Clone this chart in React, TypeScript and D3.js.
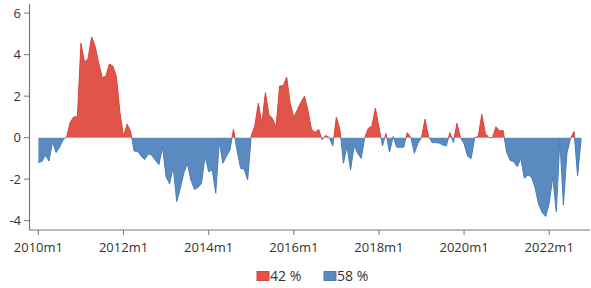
import React from 'react';
import * as d3 from 'd3';

// monthly values, 2010m1 .. 2022m10
const startYear = 2010;
const values: number[] = [
  -1.2, -1.15, -0.85, -1.13, -0.2, -0.72, -0.45, -0.1, 0.05, 0.75,
  1.0, 1.0, 4.55, 3.65, 3.8, 4.85, 4.4, 3.6, 2.9, 2.95,
  3.55, 3.45, 2.95, 1.2, 0.05, 0.65, 0.3, -0.65, -0.65, -0.9,
  -1.05, -0.78, -0.85, -1.1, -1.3, -0.46, -1.88, -2.23, -1.4, -3.08,
  -2.45, -1.7, -1.25, -2.04, -2.5, -2.4, -2.2, -0.9, -1.64, -1.56,
  -2.68, -0.19, -1.23, -0.9, -0.6, 0.4, -0.6, -1.48, -1.52, -2.04,
  0.1, 0.55, 1.66, 0.69, 2.17, 1.1, 0.93, 0.5, 2.49, 2.5,
  2.91, 1.62, 0.98, 1.34, 1.7, 2.0, 1.3, 0.4, 0.25, 0.4,
  -0.1, 0.1, 0.0, -0.4, 0.98, 0.4, -1.23, -0.4, -1.56, -0.4,
  -0.75, -1.0, 0.0, 0.45, 0.55, 1.42, 0.5, -0.4, 0.2, -0.7,
  0.05, -0.46, -0.46, -0.46, 0.24, 0.0, -0.75, -0.27, 0.0, 0.89,
  0.05, -0.24, -0.24, -0.26, -0.35, -0.4, 0.24, -0.24, 0.69, 0.0,
  -0.3, -0.9, -1.0, 0.0, 0.05, 1.13, 0.2, 0.0, 0.0, 0.53,
  0.32, 0.35, -0.7, -1.1, -1.15, -1.4, -1.0, -1.96, -1.8, -1.9,
  -2.4, -3.2, -3.6, -3.8, -3.16, -1.9, -3.57, -0.1, -3.25, -0.75,
  -0.05, 0.3, -1.85, -0.05,
];
const yTicks = [-4, -2, 0, 2, 4, 6];
const xTickYears = [2010, 2012, 2014, 2016, 2018, 2020, 2022];
const legendLabels = ['42 %', '58 %'];

const W = 591;
const H = 288;
const RED = '#e0544a';
const RED_LINE = '#d8443a';
const BLUE = '#5a8ac0';
const BLUE_LINE = '#4a7db9';
const FONT = "'Open Sans', 'Noto Sans', sans-serif";

export default function App() {
  const x = d3.scaleLinear().domain([-2.5, 155.5]).range([29.5, 590]);
  const y = d3.scaleLinear().domain([-4.45, 6.45]).range([230, 3.8]);

  const data = values.map((v, i) => ({ i, v }));
  const area = d3
    .area<{ i: number; v: number }>()
    .x((d) => x(d.i))
    .y0(y(0))
    .y1((d) => y(d.v));
  const line = d3
    .line<{ i: number; v: number }>()
    .x((d) => x(d.i))
    .y((d) => y(d.v));
  const areaPath = area(data) || '';
  const linePath = line(data) || '';
  const y0 = y(0);

  return (
    <svg
      width={W}
      height={H}
      style={{ position: 'absolute', left: 0, top: 0, background: '#fff' }}
      fontFamily={FONT}
    >
      <defs>
        <clipPath id="above">
          <rect x={0} y={0} width={W} height={y0} />
        </clipPath>
        <clipPath id="below">
          <rect x={0} y={y0} width={W} height={H - y0} />
        </clipPath>
      </defs>

      <g clipPath="url(#above)">
        <path d={areaPath} fill={RED} />
        <path d={linePath} fill="none" stroke={RED_LINE} strokeWidth={1} />
      </g>
      <g clipPath="url(#below)">
        <path d={areaPath} fill={BLUE} />
        <path d={linePath} fill="none" stroke={BLUE_LINE} strokeWidth={1} />
      </g>

      {/* y axis */}
      <line x1={29.5} x2={29.5} y1={3.8} y2={230} stroke="#777" strokeWidth={1.2} />
      {yTicks.map((t) => (
        <g key={t} transform={`translate(0,${y(t)})`}>
          <line x1={24} x2={29.5} stroke="#777" strokeWidth={1} />
          <text x={21} dy="0.35em" textAnchor="end" fontSize={13} fill="#333">
            {t}
          </text>
        </g>
      ))}

      {/* x axis */}
      <line x1={29} x2={590} y1={230} y2={230} stroke="#777" strokeWidth={1.2} />
      {xTickYears.map((yr) => {
        const xi = x((yr - startYear) * 12);
        return (
          <g key={yr} transform={`translate(${xi},230)`}>
            <line y1={0} y2={5} stroke="#777" strokeWidth={1} />
            <text y={22} textAnchor="middle" fontSize={13} fill="#333">
              {`${yr}m1`}
            </text>
          </g>
        );
      })}

      {/* legend */}
      <g fontSize={14} fill="#333">
        <rect x={257} y={271.5} width={12} height={9} fill={RED} stroke={RED_LINE} />
        <text x={270} y={281}>{legendLabels[0]}</text>
        <rect x={324} y={271.5} width={12} height={9} fill={BLUE} stroke={BLUE_LINE} />
        <text x={337} y={281}>{legendLabels[1]}</text>
      </g>
    </svg>
  );
}
